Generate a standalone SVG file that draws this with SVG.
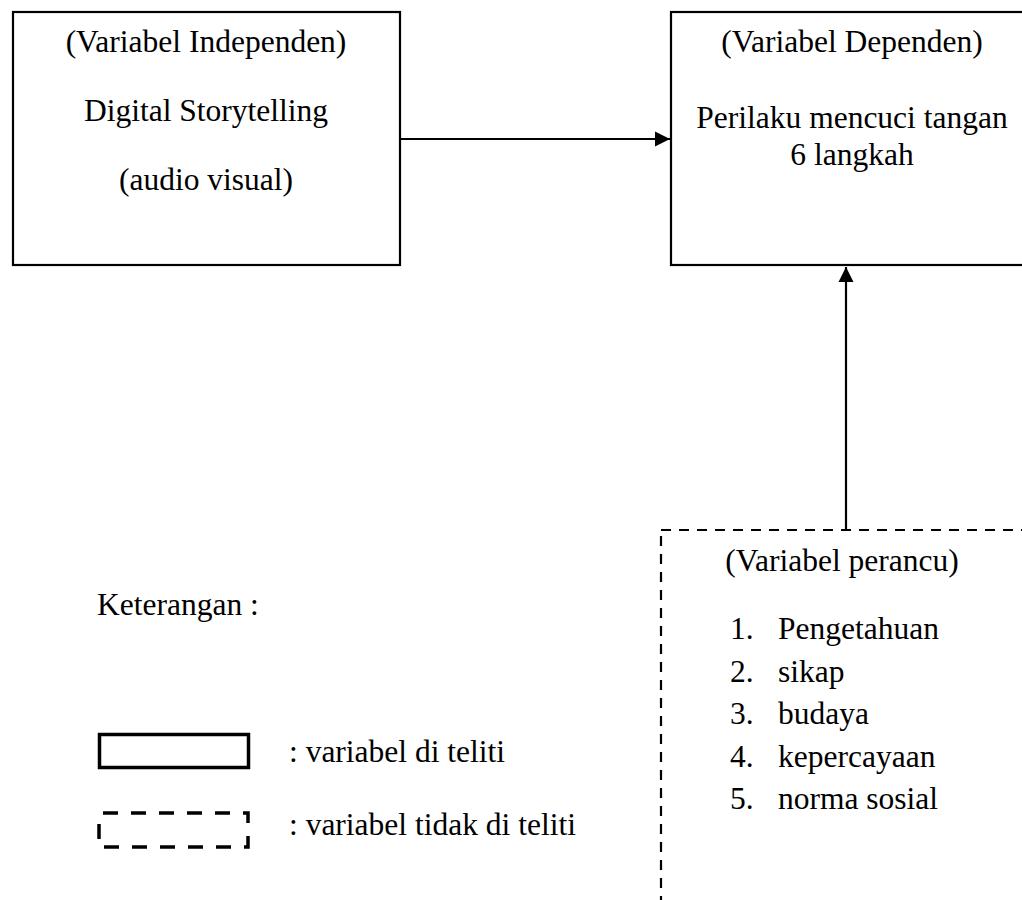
<svg xmlns="http://www.w3.org/2000/svg" width="1022" height="900" viewBox="0 0 1022 900">
<defs>
<style>
text{font-family:"Liberation Serif","Times New Roman",serif;font-size:31.5px;fill:#000}
.c{text-anchor:middle}
.box{fill:#fff;stroke:#000;stroke-width:2.2}
.dash{fill:none;stroke:#000;stroke-width:2.2;stroke-dasharray:10 8}
.conn{stroke:#000;stroke-width:2.2;fill:none}
</style>
<marker id="ah" markerUnits="userSpaceOnUse" markerWidth="16" markerHeight="16" viewBox="0 0 16 16" refX="15" refY="8" orient="auto">
<polygon points="0,0.5 15,8 0,15.5" fill="#000"/>
</marker>
</defs>
<rect width="1022" height="900" fill="#fff"/>
<g id="connectors">
<line class="conn" x1="400" y1="139" x2="670" y2="139" marker-end="url(#ah)"/>
<line class="conn" x1="846" y1="530" x2="846" y2="267" marker-end="url(#ah)"/>
</g>
<g id="independen">
<rect class="box" x="13" y="12" width="387" height="253"/>
<text class="c" x="206" y="52">(Variabel Independen)</text>
<text class="c" x="206" y="121">Digital Storytelling</text>
<text class="c" x="206" y="190">(audio visual)</text>
</g>
<g id="dependen">
<rect class="box" x="671" y="12" width="370" height="253"/>
<text class="c" x="852" y="52">(Variabel Dependen)</text>
<text class="c" x="852" y="128">Perilaku mencuci tangan</text>
<text class="c" x="852" y="165">6 langkah</text>
</g>
<g id="perancu">
<rect class="dash" x="661" y="530" width="400" height="400"/>
<text class="c" x="842" y="571">(Variabel perancu)</text>
<text x="730" y="639">1.</text><text x="778" y="639">Pengetahuan</text>
<text x="730" y="682">2.</text><text x="778" y="682">sikap</text>
<text x="730" y="724">3.</text><text x="778" y="724">budaya</text>
<text x="730" y="767">4.</text><text x="778" y="767">kepercayaan</text>
<text x="730" y="809">5.</text><text x="778" y="809">norma sosial</text>
</g>
<g id="legend">
<text x="97" y="615">Keterangan :</text>
<rect x="99.5" y="734.5" width="149" height="33" fill="none" stroke="#000" stroke-width="3.5"/>
<text x="289" y="762">: variabel di teliti</text>
<rect x="99" y="813" width="149" height="34" fill="none" stroke="#000" stroke-width="3.5" stroke-dasharray="15 13" stroke-dashoffset="-4"/>
<text x="289" y="835">: variabel tidak di teliti</text>
</g>
</svg>
